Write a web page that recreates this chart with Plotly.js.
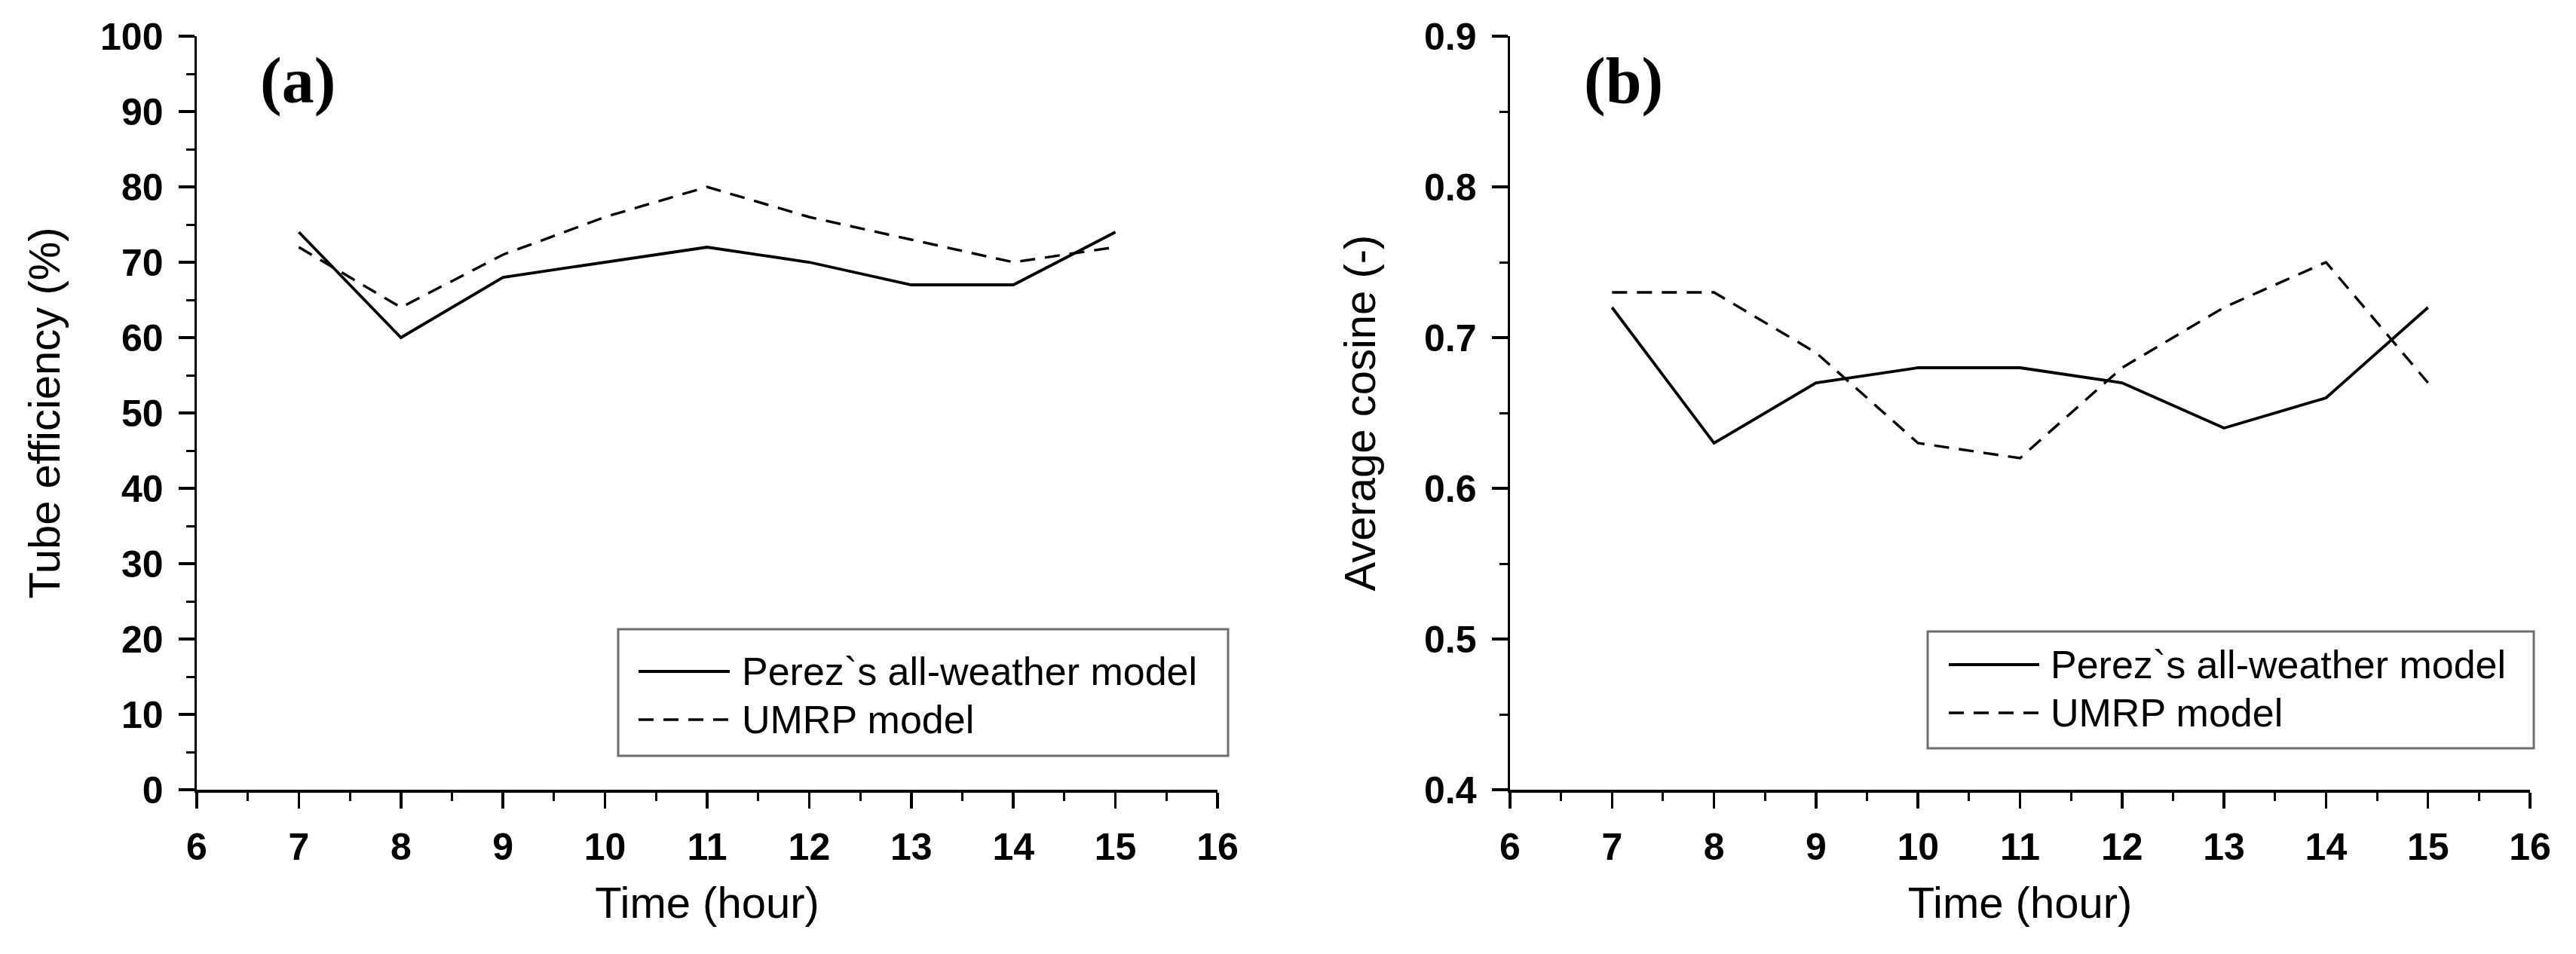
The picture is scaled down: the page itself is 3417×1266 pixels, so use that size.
<!DOCTYPE html>
<html>
<head>
<meta charset="utf-8">
<script src="https://cdn.plot.ly/plotly-3.0.1.min.js"></script>
<style>html,body{margin:0;padding:0;background:#fff;}#chart{width:3417px;height:1266px;}</style>
</head>
<body>
<div id="chart"></div>
<script>
// ---- data ----
const hours = [7, 8, 9, 10, 11, 12, 13, 14, 15];
const effPerez = [74, 60, 68, 70, 72, 70, 67, 67, 74];
const effUMRP  = [72, 64, 71, 76, 80, 76, 73, 70, 72];
const cosPerez = [0.72, 0.63, 0.67, 0.68, 0.68, 0.67, 0.64, 0.66, 0.72];
const cosUMRP  = [0.73, 0.73, 0.69, 0.63, 0.62, 0.68, 0.72, 0.75, 0.67];
const seriesNames = ["Perez`s all-weather model", "UMRP model"];
const panelLabels = ["(a)", "(b)"];
const xTitle = "Time (hour)";
const yTitleA = "Tube efficiency (%)";
const yTitleB = "Average cosine (-)";

// ---- geometry helpers (pixel -> paper) ----
const W = 3417, H = 1266;
const px = v => v / W;
const py = v => 1 - v / H;

const solid = {color: '#000', width: 3.8};
const dashed = {color: '#000', width: 3.4, dash: '20px,13px'};

const traces = [
  {x: hours, y: effPerez, name: seriesNames[0], mode: 'lines', line: solid, xaxis: 'x', yaxis: 'y', showlegend: false},
  {x: hours, y: effUMRP, name: seriesNames[1], mode: 'lines', line: dashed, xaxis: 'x', yaxis: 'y', showlegend: false},
  {x: hours, y: cosPerez, name: seriesNames[0], mode: 'lines', line: solid, xaxis: 'x2', yaxis: 'y2', showlegend: false},
  {x: hours, y: cosUMRP, name: seriesNames[1], mode: 'lines', line: dashed, xaxis: 'x2', yaxis: 'y2', showlegend: false}
];

const tickFont = {family: 'Liberation Sans, Arial, sans-serif', size: 50, color: '#000', weight: 'bold'};
const titleFont = {family: 'Liberation Sans, Arial, sans-serif', size: 58, color: '#000'};
const yDom = [py(1048), py(48)];

function xAxis(dom, anchor) {
  return {
    domain: dom, anchor: anchor, range: [6, 16], dtick: 1, tick0: 6,
    showline: true, linecolor: '#000', linewidth: 3.5, mirror: false,
    ticks: 'outside', ticklen: 21, tickwidth: 3.5, tickcolor: '#000',
    minor: {dtick: 0.5, ticks: 'outside', ticklen: 11, tickwidth: 3, tickcolor: '#000'},
    showgrid: false, zeroline: false, tickfont: tickFont, ticklabelstandoff: 8,
    title: {text: xTitle, font: titleFont, standoff: 28},
    automargin: false, fixedrange: true
  };
}
function yAxis(range, dtick, minorDtick, anchor, title, fmt, standoff) {
  return {
    domain: yDom, anchor: anchor, range: range, dtick: dtick, tick0: range[0],
    showline: true, linecolor: '#000', linewidth: 3.5, mirror: false,
    ticks: 'outside', ticklen: 21, tickwidth: 3.5, tickcolor: '#000',
    minor: {dtick: minorDtick, ticks: 'outside', ticklen: 11, tickwidth: 3, tickcolor: '#000'},
    showgrid: false, zeroline: false, tickfont: tickFont, ticklabelstandoff: 10,
    tickformat: fmt,
    title: {text: title, font: titleFont, standoff: standoff},
    automargin: false, fixedrange: true
  };
}

const legendFont = {family: 'Liberation Sans, Arial, sans-serif', size: 52, color: '#000'};
function legendParts(box, lineX, textX, rowY) {
  const shapes = [
    {type: 'rect', xref: 'paper', yref: 'paper', x0: px(box[0]), x1: px(box[1]), y0: py(box[3]), y1: py(box[2]),
     line: {color: '#6e6e6e', width: 3}, fillcolor: 'rgba(0,0,0,0)'},
    {type: 'line', xref: 'paper', yref: 'paper', x0: px(lineX[0]), x1: px(lineX[1]), y0: py(rowY[0]), y1: py(rowY[0]),
     line: {color: '#000', width: 3.8}},
    {type: 'line', xref: 'paper', yref: 'paper', x0: px(lineX[0]), x1: px(lineX[1]), y0: py(rowY[1]), y1: py(rowY[1]),
     line: {color: '#000', width: 3.4, dash: '20px,13px'}}
  ];
  const ann = seriesNames.map((n, i) => ({
    xref: 'paper', yref: 'paper', x: px(textX), y: py(rowY[i]), xanchor: 'left', yanchor: 'middle',
    text: n, showarrow: false, font: legendFont
  }));
  return {shapes, ann};
}
const legA = legendParts([820, 1629, 835, 1003], [847, 968], 982, [891, 955]);
const legB = legendParts([2557, 3361, 838, 993], [2585, 2705], 2718, [882, 946]);

const panelFont = {family: 'Liberation Serif, Times New Roman, serif', size: 86, color: '#000', weight: 'bold'};
const panelAnn = [
  {xref: 'paper', yref: 'paper', x: px(395), y: py(107), xanchor: 'center', yanchor: 'middle', text: panelLabels[0], showarrow: false, font: panelFont},
  {xref: 'paper', yref: 'paper', x: px(2153), y: py(107), xanchor: 'center', yanchor: 'middle', text: panelLabels[1], showarrow: false, font: panelFont}
];

const layout = {
  width: W, height: H,
  margin: {l: 0, r: 0, t: 0, b: 0, pad: 0},
  paper_bgcolor: '#fff', plot_bgcolor: '#fff',
  showlegend: false,
  xaxis: xAxis([px(261), px(1615)], 'y'),
  yaxis: yAxis([0, 100], 10, 5, 'x', yTitleA, 'd', 36),
  xaxis2: xAxis([px(2003), px(3356)], 'y2'),
  yaxis2: yAxis([0.4, 0.9], 0.1, 0.05, 'x2', yTitleB, '.1f', 46),
  shapes: [...legA.shapes, ...legB.shapes],
  annotations: [...legA.ann, ...legB.ann, ...panelAnn]
};

Plotly.newPlot('chart', traces, layout, {staticPlot: true, displayModeBar: false});
</script>
</body>
</html>
